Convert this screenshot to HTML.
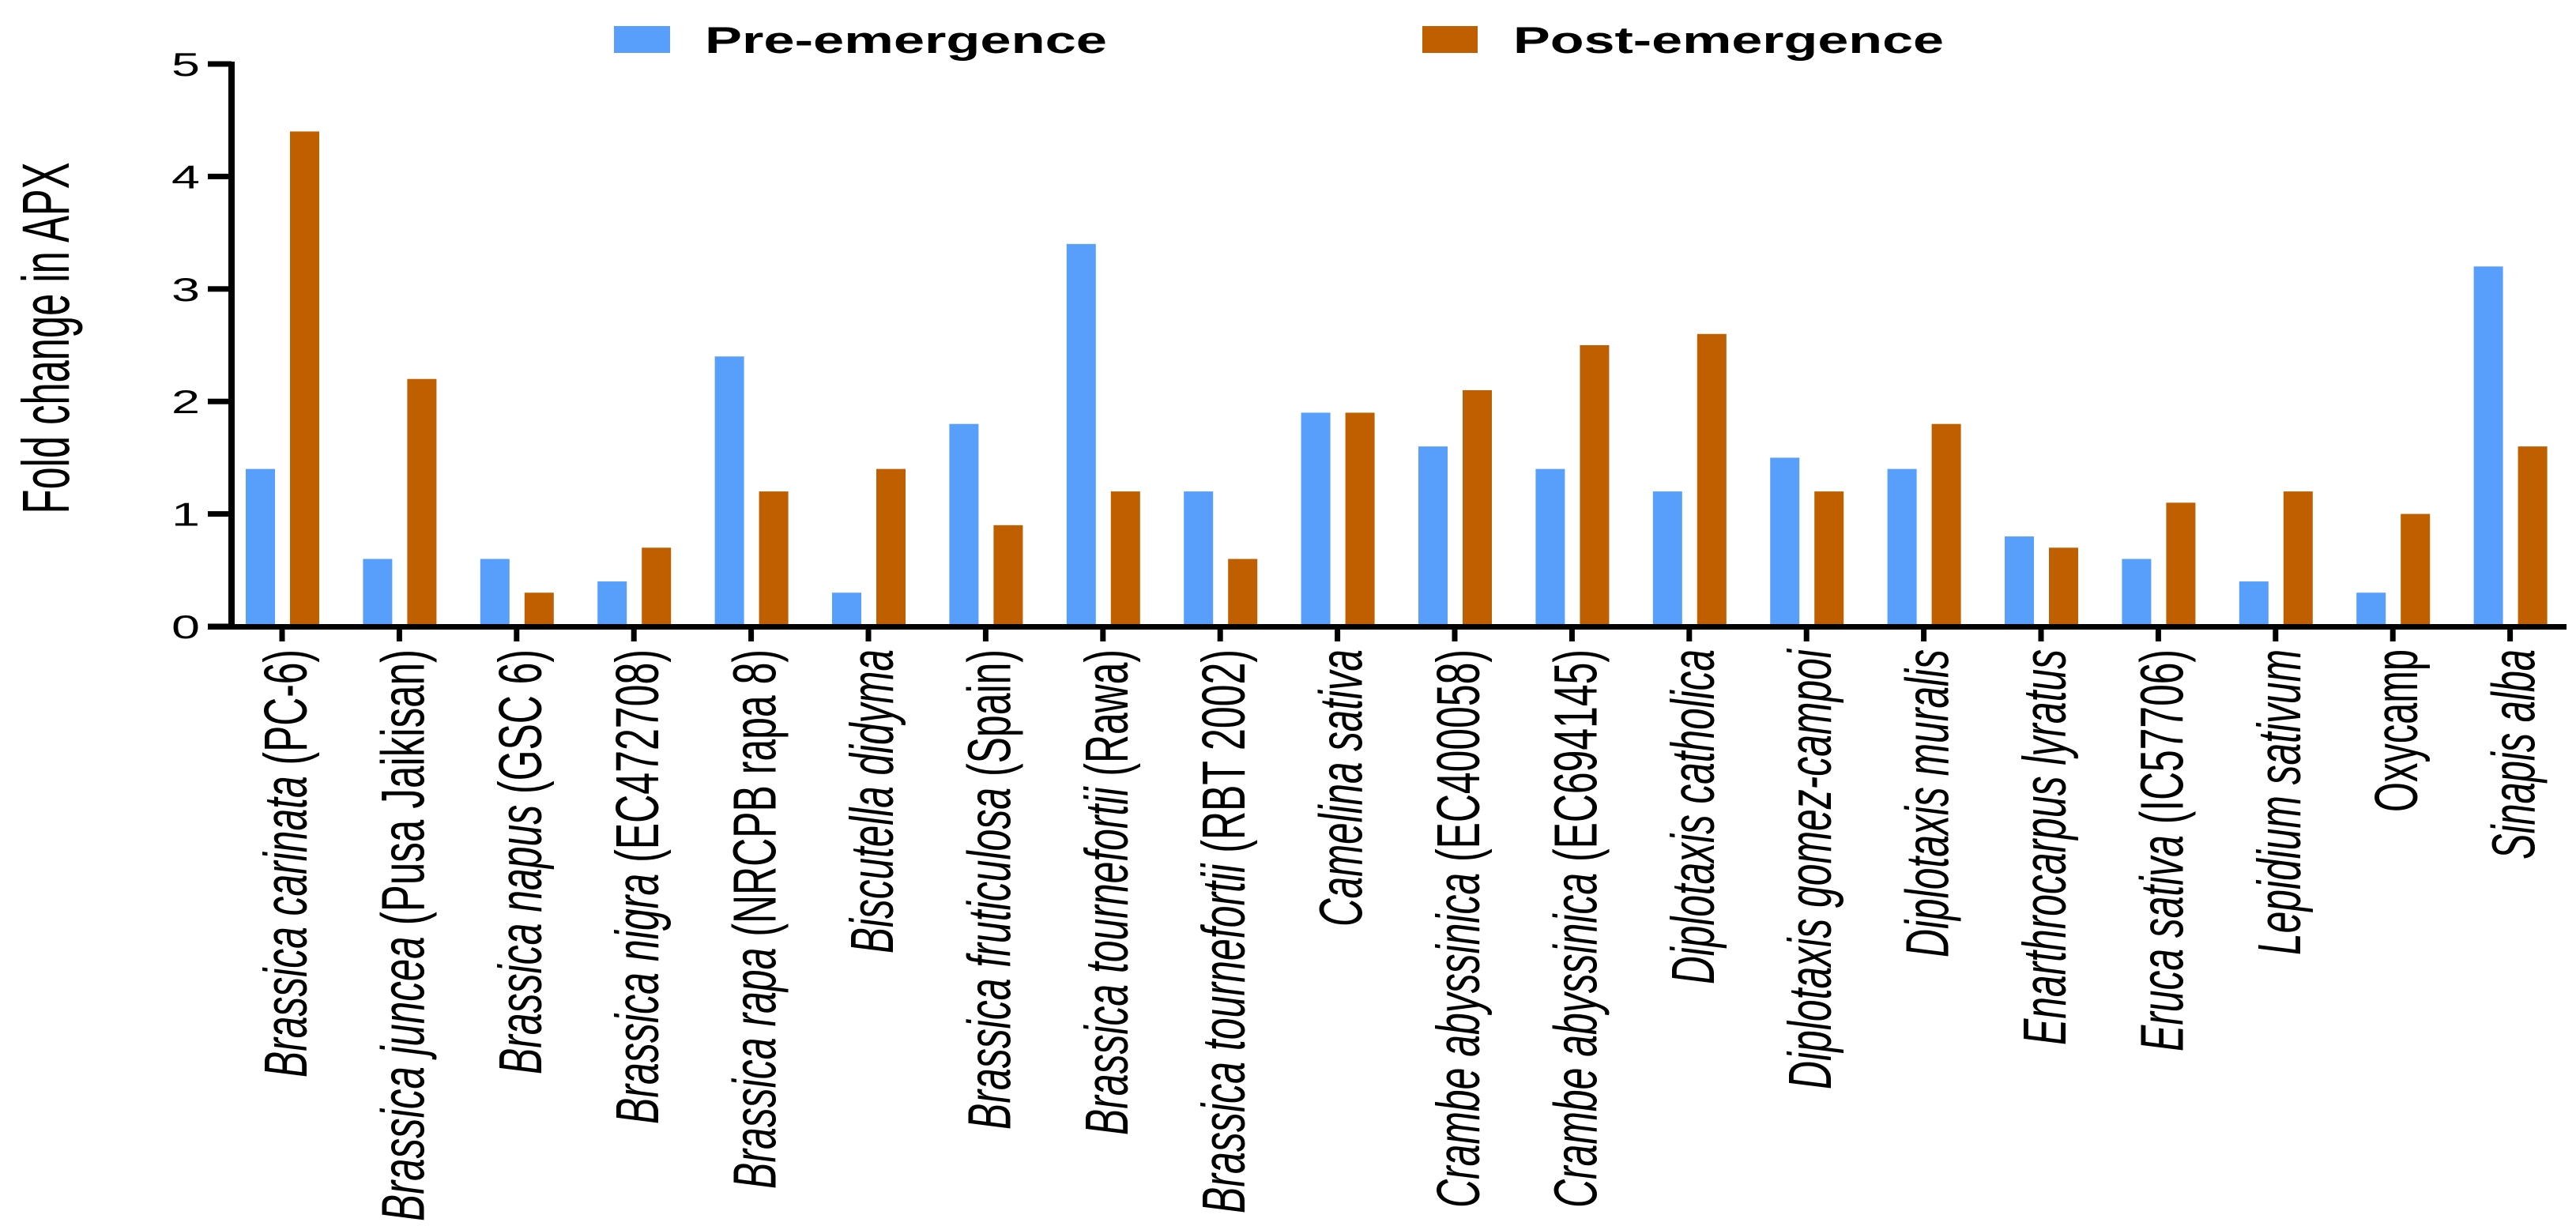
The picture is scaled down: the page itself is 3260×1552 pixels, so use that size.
<!DOCTYPE html>
<html><head><meta charset="utf-8"><style>
html,body{margin:0;padding:0;background:#fff;}
svg{display:block;font-family:"Liberation Sans",sans-serif;}
</style></head><body>
<svg id="chart" width="3260" height="1552" viewBox="0 0 3260 1552" xmlns="http://www.w3.org/2000/svg">
<g>
<rect x="777" y="33" width="71" height="34" fill="#579ffb"/>
<text x="892" y="67" font-size="47" font-weight="bold" textLength="509" lengthAdjust="spacingAndGlyphs">Pre-emergence</text>
<rect x="1800" y="33" width="70" height="34" fill="#bf5f00"/>
<text x="1915" y="67" font-size="47" font-weight="bold" textLength="545" lengthAdjust="spacingAndGlyphs">Post-emergence</text>
</g>
<text transform="translate(87,428) rotate(-90)" text-anchor="middle" font-size="84" textLength="445" lengthAdjust="spacingAndGlyphs">Fold change in APX</text>
<g id="bars"></g>
<g id="axes"></g>
<g id="xlabels"></g>
</svg>
<script>
const categories = [
 ["Brassica carinata"," (PC-6)"],["Brassica  juncea"," (Pusa Jaikisan)"],["Brassica napus"," (GSC 6)"],
 ["Brassica nigra"," (EC472708)"],["Brassica rapa"," (NRCPB rapa 8)"],["Biscutella didyma",""],
 ["Brassica fruticulosa"," (Spain)"],["Brassica tournefortii"," (Rawa)"],["Brassica tournefortii"," (RBT 2002)"],
 ["Camelina sativa",""],["Crambe abyssinica"," (EC400058)"],["Crambe abyssinica"," (EC694145)"],
 ["Diplotaxis catholica",""],["Diplotaxis gomez-campoi",""],["Diplotaxis muralis",""],
 ["Enarthrocarpus lyratus",""],["Eruca sativa"," (IC57706)"],["Lepidium sativum",""],
 ["",'Oxycamp'],["Sinapis alba",""]
];
const preValues  = [1.4,0.6,0.6,0.4,2.4,0.3,1.8,3.4,1.2,1.9,1.6,1.4,1.2,1.5,1.4,0.8,0.6,0.4,0.3,3.2];
const postValues = [4.4,2.2,0.3,0.7,1.2,1.4,0.9,1.2,0.6,1.9,2.1,2.5,2.6,1.2,1.8,0.7,1.1,1.2,1.0,1.6];
const yTicks = [0,1,2,3,4,5];
const labelLengths = [542,724,538,601,683,385,608,615,714,351,707,707,424,557,390,501,509,387,206,266];

const NS="http://www.w3.org/2000/svg";
const x0=357, step=148.4, yBase=793, yTop=81, yMax=5;
function xPos(i){return x0+i*step;}
function yPos(v){return yBase-(v/yMax)*(yBase-yTop);}
function mk(tag,attrs,parent){const e=document.createElementNS(NS,tag);for(const k in attrs)e.setAttribute(k,attrs[k]);parent.appendChild(e);return e;}
const bars=document.getElementById('bars'), axes=document.getElementById('axes'), xl=document.getElementById('xlabels');

preValues.forEach((v,i)=>{
  const r=mk('rect',{x:xPos(i)-46,y:yPos(v),width:37,height:yBase-yPos(v),fill:'#579ffb'},bars);
  
  
});
postValues.forEach((v,i)=>{
  const r=mk('rect',{x:xPos(i)+10,y:yPos(v),width:37,height:yBase-yPos(v),fill:'#bf5f00'},bars);
  
  
});

const ya=mk('rect',{x:289,y:78,width:8,height:yBase-78+4,fill:'#000'},axes);


const xa=mk('rect',{x:263,y:790,width:3248-263,height:7,fill:'#000'},axes);



yTicks.forEach(t=>{
  const y=yPos(t);
  const tk=mk('rect',{x:263,y:y-3.5,width:30,height:7,fill:'#000'},axes);
  
  
  const tx=mk('text',{x:253,y:y+15,'text-anchor':'end','font-size':42,textLength:36,lengthAdjust:'spacingAndGlyphs'},axes);
  tx.textContent=String(t);
  
  
});

categories.forEach((c,i)=>{
  const x=xPos(i);
  const tk=mk('rect',{x:x-3.5,y:797,width:7,height:15,fill:'#000'},axes);
  
  
  const t=mk('text',{transform:`translate(${x+31},822) rotate(-90)`,'text-anchor':'end','font-size':77,textLength:labelLengths[i],lengthAdjust:'spacingAndGlyphs'},xl);
  
  
  if(c[0]){const a=mk('tspan',{'font-style':'italic'},t);a.textContent=c[0];}
  if(c[1]){const b=mk('tspan',{},t);b.textContent=c[1];}
});
</script>
</body></html>
